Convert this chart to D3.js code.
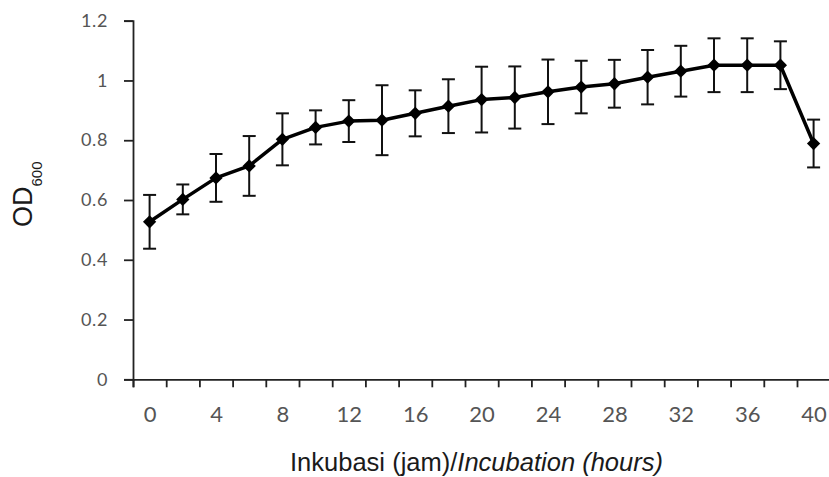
<!DOCTYPE html>
<html>
<head>
<meta charset="utf-8">
<script src="https://cdn.jsdelivr.net/npm/d3@7"></script>
<style>
  body { margin: 0; background: #fff; }
  svg { display: block; }
</style>
</head>
<body>
<svg width="829" height="477"></svg>
<script>
// incubation time (hours), mean OD600 and error (sd)
var hours = [0, 2, 4, 6, 8, 10, 12, 14, 16, 18, 20, 22, 24, 26, 28, 30, 32, 34, 36, 38, 40];
var od = [0.527, 0.602, 0.674, 0.714, 0.803, 0.843, 0.864, 0.867, 0.890, 0.914, 0.936,
          0.943, 0.962, 0.978, 0.989, 1.011, 1.031, 1.051, 1.051, 1.051, 0.789];
var sd = [0.090, 0.050, 0.080, 0.100, 0.087, 0.057, 0.070, 0.117, 0.077, 0.090, 0.110,
          0.104, 0.108, 0.088, 0.080, 0.091, 0.085, 0.090, 0.090, 0.080, 0.080];
var xLabels = [0, 4, 8, 12, 16, 20, 24, 28, 32, 36, 40];
var yTicks = [0, 0.2, 0.4, 0.6, 0.8, 1, 1.2];

var data = hours.map(function(h, i) { return {h: h, v: od[i], e: sd[i]}; });

var svg = d3.select("svg");

// excel style category axis: every category 2 h wide, boundaries on odd hours
var x = d3.scaleLinear().domain([-1, 41]).range([133, 830.2]);
var y = d3.scaleLinear().domain([0, 1.2]).range([379.3, 20.7]);

var boundaries = d3.range(-1, 42, 2);

// y axis
var yAxis = svg.append("g")
    .attr("transform", "translate(133,0)")
    .call(d3.axisLeft(y).tickValues(yTicks).tickSize(9).tickPadding(16)
      .tickFormat(function(d) { return d === 0 ? "0" : String(+d.toFixed(1)); }));
yAxis.select(".domain").attr("stroke", "#222").attr("stroke-width", 1.8);
yAxis.selectAll(".tick line").attr("stroke", "#222").attr("stroke-width", 1.8);
yAxis.selectAll("text")
    .attr("font-family", "Lato, 'Open Sans', sans-serif")
    .attr("font-size", 18)
    .attr("letter-spacing", 0.6)
    .attr("fill", "#555");

// x axis ticks on category borders
var xTickAxis = svg.append("g")
    .attr("transform", "translate(0,379.3)")
    .call(d3.axisBottom(x).tickValues(boundaries).tickSize(8).tickFormat(""));
xTickAxis.select(".domain").attr("stroke", "#222").attr("stroke-width", 1.8);
xTickAxis.selectAll(".tick line").attr("stroke", "#222").attr("stroke-width", 1.8);

// x labels in the middle of categories
var xLabAxis = svg.append("g")
    .attr("transform", "translate(0,379.3)")
    .call(d3.axisBottom(x).tickValues(xLabels).tickSize(0));
xLabAxis.select(".domain").remove();
xLabAxis.selectAll("text")
    .attr("y", 43)
    .attr("dy", null)
    .attr("font-family", "Lato, 'Open Sans', sans-serif")
    .attr("font-size", 22)
    .attr("fill", "#555");

// error bars
var eb = svg.append("g")
    .attr("stroke", "#111")
    .attr("stroke-width", 2)
    .selectAll("g")
    .data(data)
    .enter().append("g");

eb.append("line")
    .attr("x1", function(d) { return x(d.h); })
    .attr("x2", function(d) { return x(d.h); })
    .attr("y1", function(d) { return y(d.v - d.e); })
    .attr("y2", function(d) { return y(d.v + d.e); });
eb.append("line")
    .attr("x1", function(d) { return x(d.h) - 6.5; })
    .attr("x2", function(d) { return x(d.h) + 6.5; })
    .attr("y1", function(d) { return y(d.v + d.e); })
    .attr("y2", function(d) { return y(d.v + d.e); });
eb.append("line")
    .attr("x1", function(d) { return x(d.h) - 6.5; })
    .attr("x2", function(d) { return x(d.h) + 6.5; })
    .attr("y1", function(d) { return y(d.v - d.e); })
    .attr("y2", function(d) { return y(d.v - d.e); });

// the line
var line = d3.line()
    .x(function(d) { return x(d.h); })
    .y(function(d) { return y(d.v); });

svg.append("path")
    .datum(data)
    .attr("fill", "none")
    .attr("stroke", "#000")
    .attr("stroke-width", 3.5)
    .attr("stroke-linejoin", "round")
    .attr("d", line);

// diamond markers
svg.append("g")
    .selectAll("path")
    .data(data)
    .enter().append("path")
    .attr("d", d3.symbol().type(d3.symbolSquare).size(88))
    .attr("transform", function(d) {
      return "translate(" + x(d.h) + "," + y(d.v) + ") rotate(45)";
    })
    .attr("fill", "#000");

// axis titles
var yt = svg.append("text")
    .attr("transform", "translate(32,227) rotate(-90)")
    .attr("font-family", "'Liberation Sans', Arial, sans-serif")
    .attr("fill", "#1a1a1a");
yt.append("tspan").attr("font-size", 27).text("OD");
yt.append("tspan").attr("font-size", 15).attr("dy", 10).text("600");

var xt = svg.append("text")
    .attr("x", 290)
    .attr("y", 471)
    .attr("font-family", "'Liberation Sans Narrow', 'Arial Narrow', 'Liberation Sans', Arial, sans-serif")
    .attr("font-size", 26)
    .attr("fill", "#1a1a1a")
    .attr("textLength", 373)
    .attr("lengthAdjust", "spacingAndGlyphs");
xt.append("tspan").text("Inkubasi (jam)/");
xt.append("tspan").attr("font-style", "italic").text("Incubation (hours)");
</script>
</body>
</html>
